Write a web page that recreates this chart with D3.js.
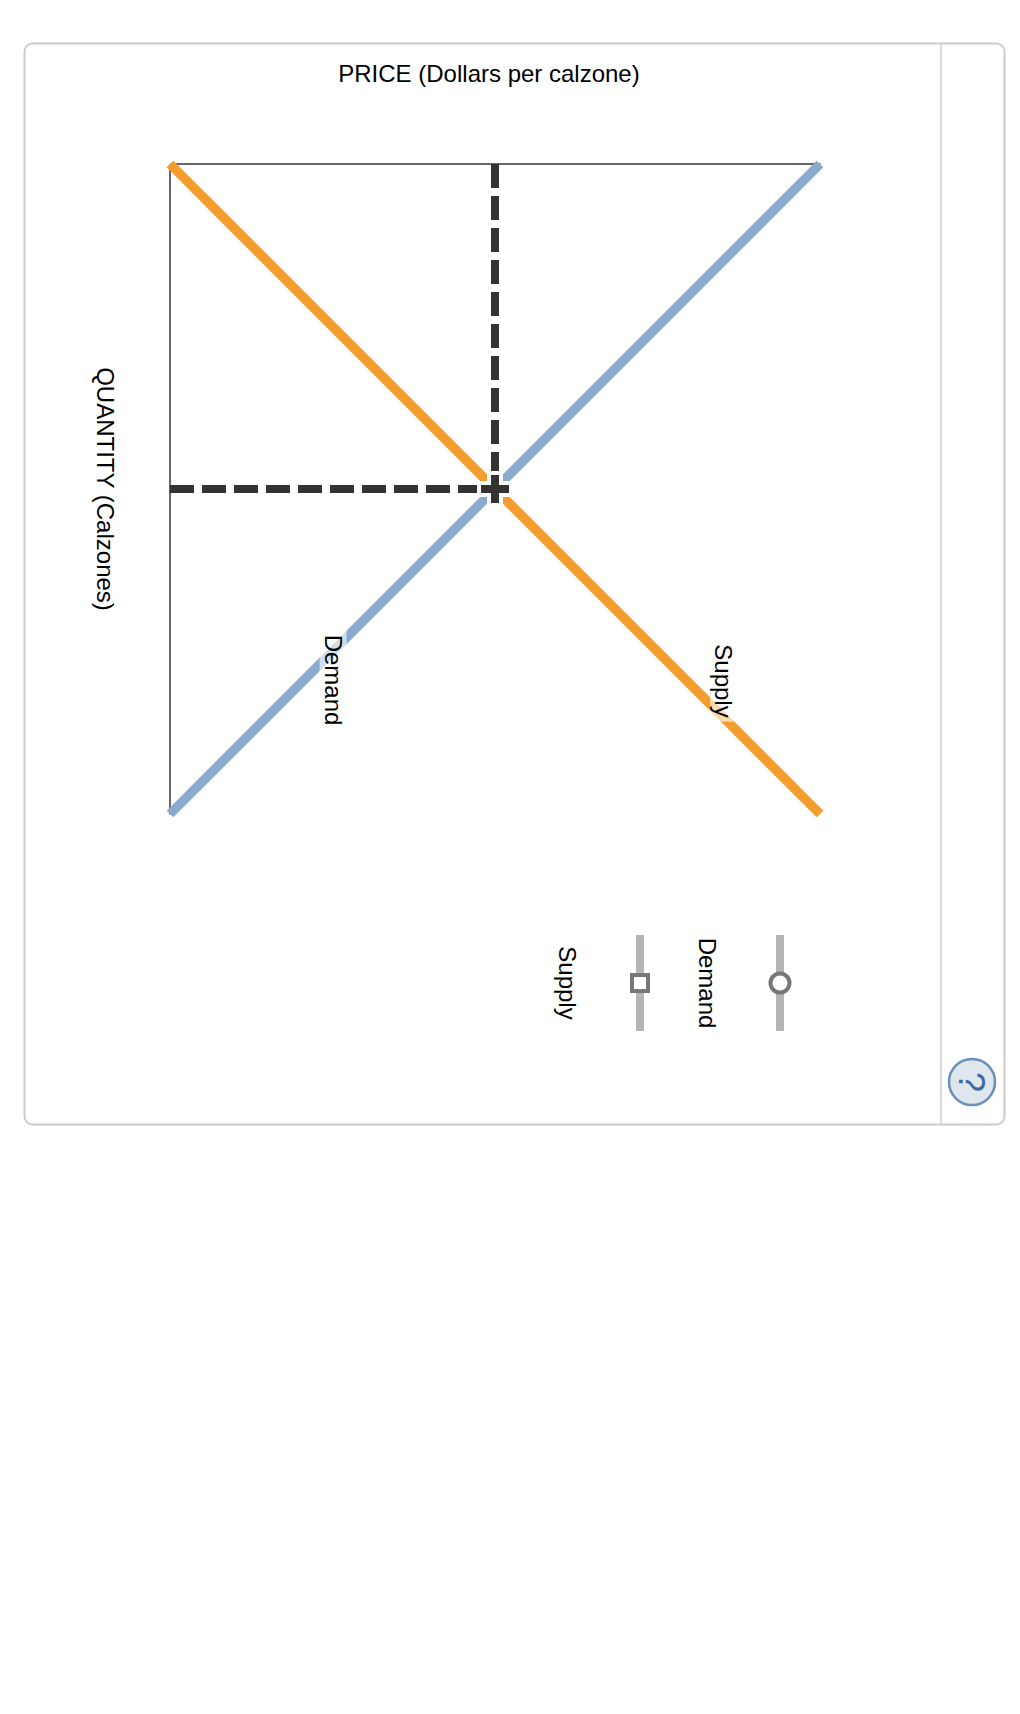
<!DOCTYPE html>
<html><head><meta charset="utf-8">
<script src="https://cdn.jsdelivr.net/npm/d3@7/dist/d3.min.js"></script>
<style>html,body{margin:0;padding:0;background:#fff}svg{display:block}text{font-family:"Liberation Sans",Arial,sans-serif;fill:#000}</style>
</head><body><div id="chart"></div>
<script>
const priceExtent = [0, 100];
const quantityExtent = [0, 100];
const supplyPrice = [0, 100];
const supplyQuantity = [0, 100];
const demandPrice = [100, 0];
const demandQuantity = [0, 100];
const eqPrice = [50];
const eqQuantity = [50];
const priceTitle = "PRICE (Dollars per calzone)";
const quantityTitle = "QUANTITY (Calzones)";
const legendLabels = ["Supply", "Demand"];

const fs = 24;
const svg = d3.select("#chart").append("svg").attr("width",1020).attr("height",1714);
const x = d3.scaleLinear().domain(priceExtent).range([170,820]);
const y = d3.scaleLinear().domain(quantityExtent).range([164,814]);
const line = d3.line().x(d=>x(d[0])).y(d=>y(d[1]));

// panel
svg.append("rect").attr("x",24.5).attr("y",43.5).attr("width",980).attr("height",1081).attr("rx",8)
  .attr("fill","#fff").attr("stroke","#ccc").attr("stroke-width",2);
svg.append("line").attr("x1",941).attr("x2",941).attr("y1",44).attr("y2",1124).attr("stroke","#ccc").attr("stroke-width",1.5);

// frame (axes)
svg.append("g").attr("transform",`translate(0,${y(0)-0.5})`)
  .call(d3.axisTop(x).tickValues([]).tickSizeOuter(0))
  .call(g=>g.select(".domain").attr("stroke","#666").attr("stroke-width",2));
svg.append("g").attr("transform",`translate(${x(0)-0.5},0)`)
  .call(d3.axisLeft(y).tickValues([]).tickSizeOuter(0))
  .call(g=>g.select(".domain").attr("stroke","#666").attr("stroke-width",2));

// curves
const curve = (ps,qs,c)=>svg.append("path").attr("d",line(ps.map((p,i)=>[p,qs[i]])))
  .attr("fill","none").attr("stroke",c).attr("stroke-width",9.5);
curve(demandPrice,demandQuantity,"#8aabcf");
curve(supplyPrice,supplyQuantity,"#f39c30");

// dashed guides
const ex=x(eqPrice[0]), ey=y(eqQuantity[0]);
svg.append("line").attr("x1",ex).attr("x2",ex).attr("y1",y(0)).attr("y2",ey)
  .attr("stroke","#333").attr("stroke-width",8).attr("stroke-dasharray","24 8");
svg.append("line").attr("x1",x(0)).attr("x2",ex).attr("y1",ey).attr("y2",ey)
  .attr("stroke","#333").attr("stroke-width",8).attr("stroke-dasharray","24 8");

// equilibrium plus
const plus=(a,w,c)=>svg.append("path").attr("d",`M${ex-a},${ey}H${ex+a}M${ex},${ey-a}V${ey+a}`)
  .attr("stroke",c).attr("stroke-width",w).attr("fill","none");
plus(18,16,"#fff");
plus(14,8,"#333");

// text helper: rotated 90deg clockwise
const vtext=(t,cx,cy,halo)=>{
  const g=svg.append("g").attr("transform",`translate(${cx},${cy}) rotate(90)`);
  const tx=g.append("text").attr("text-anchor","middle").attr("dy","0.35em").attr("font-size",fs).text(t);
  if(halo){const b=tx.node().getBBox();
    g.insert("rect","text").attr("x",b.x-4).attr("y",b.y).attr("width",b.width+8).attr("height",b.height)
     .attr("fill","#fff").attr("fill-opacity",0.6);}
};
svg.append("text").attr("x",489).attr("y",74).attr("dy","0.35em").attr("text-anchor","middle").attr("font-size",fs).text(priceTitle);
vtext(quantityTitle,105,489);
vtext(legendLabels[1],333,680,true);
vtext(legendLabels[0],723.5,681,true);

// legend
[[640,"square"],[780,"circle"]].forEach(([cx,k],i)=>{
  svg.append("rect").attr("x",cx-4).attr("y",935).attr("width",8).attr("height",96).attr("fill","#b5b5b5");
  if(k==="square") svg.append("rect").attr("x",cx-8).attr("y",975).attr("width",16).attr("height",16)
    .attr("fill","#fff").attr("stroke","#777").attr("stroke-width",4);
  else svg.append("circle").attr("cx",cx).attr("cy",983).attr("r",9.5)
    .attr("fill","#fff").attr("stroke","#777").attr("stroke-width",4);
});
vtext(legendLabels[0],567.5,983);
vtext(legendLabels[1],707.5,983);

// help button
svg.append("circle").attr("cx",972).attr("cy",1082).attr("r",23).attr("fill","#dfe6ee").attr("stroke","#6a8fb8").attr("stroke-width",2.5);
svg.append("g").attr("transform","translate(972,1082) rotate(90)").append("text")
  .attr("text-anchor","middle").attr("dy","0.36em").attr("font-size",36).style("fill","#3a6ba3").text("?");
</script></body></html>
